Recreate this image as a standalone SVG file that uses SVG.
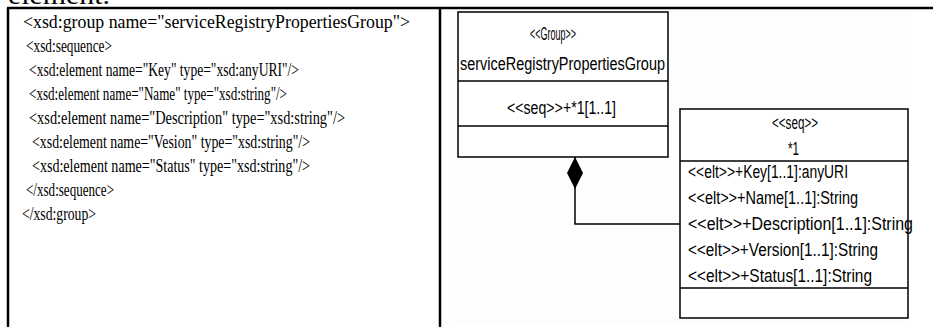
<svg xmlns="http://www.w3.org/2000/svg" width="933" height="327" viewBox="0 0 933 327">
<style>
.xml{font-family:"Liberation Serif","Times New Roman",serif;font-size:18.5px;fill:#000}
.uml{font-family:"Liberation Sans",Arial,sans-serif;font-size:17.5px;fill:#000}
.box{fill:#fff;stroke:#000;stroke-width:1.5}
.sep{stroke:#000;stroke-width:1.5}
.tbl{stroke:#000;stroke-width:2.5}
.conn{fill:none;stroke:#000;stroke-width:1.5}
</style>
<defs>
<marker id="comp" viewBox="0 0 32 16" refX="0" refY="8" markerWidth="32" markerHeight="16" markerUnits="userSpaceOnUse" orient="auto">
<polygon points="0,8 16,0 32,8 16,16" fill="#000"/>
</marker>
</defs>
<rect width="933" height="327" fill="#fff"/>
<text x="8" y="4" style="font-family:'Liberation Serif',serif;font-size:26px" textLength="102" lengthAdjust="spacingAndGlyphs">element.</text>
<g id="table">
<line class="tbl" x1="7" y1="8" x2="933" y2="8"/>
<line class="tbl" x1="8" y1="8" x2="8" y2="327"/>
<line class="tbl" x1="440" y1="8" x2="440" y2="327"/>
<rect x="455" y="10" width="455" height="313" fill="#fdfdfd"/>
</g>
<g id="xsd-code">
<text class="xml" x="23" y="28" textLength="387" lengthAdjust="spacingAndGlyphs">&lt;xsd:group name="serviceRegistryPropertiesGroup"&gt;</text>
<text class="xml" x="26" y="52" textLength="86" lengthAdjust="spacingAndGlyphs">&lt;xsd:sequence&gt;</text>
<text class="xml" x="29" y="76" textLength="270" lengthAdjust="spacingAndGlyphs">&lt;xsd:element name="Key" type="xsd:anyURI"/&gt;</text>
<text class="xml" x="29" y="100" textLength="258" lengthAdjust="spacingAndGlyphs">&lt;xsd:element name="Name" type="xsd:string"/&gt;</text>
<text class="xml" x="29" y="124" textLength="316" lengthAdjust="spacingAndGlyphs">&lt;xsd:element name="Description" type="xsd:string"/&gt;</text>
<text class="xml" x="32" y="148" textLength="278" lengthAdjust="spacingAndGlyphs">&lt;xsd:element name="Vesion" type="xsd:string"/&gt;</text>
<text class="xml" x="32" y="172" textLength="278" lengthAdjust="spacingAndGlyphs">&lt;xsd:element name="Status" type="xsd:string"/&gt;</text>
<text class="xml" x="26" y="196" textLength="88" lengthAdjust="spacingAndGlyphs">&lt;/xsd:sequence&gt;</text>
<text class="xml" x="22" y="220" textLength="74" lengthAdjust="spacingAndGlyphs">&lt;/xsd:group&gt;</text>
</g>
<g id="connectors">
<path class="conn" d="M575,157 V224 H680" marker-start="url(#comp)"/>
</g>
<g id="group-node">
<rect class="box" x="458" y="12" width="210" height="145"/>
<line class="sep" x1="458" y1="81" x2="668" y2="81"/>
<line class="sep" x1="458" y1="126" x2="668" y2="126"/>
<text class="uml" x="530" y="40" textLength="46" lengthAdjust="spacingAndGlyphs">&lt;&lt;Group&gt;&gt;</text>
<text class="uml" x="460" y="70" textLength="205" lengthAdjust="spacingAndGlyphs">serviceRegistryPropertiesGroup</text>
<text class="uml" x="507" y="114" textLength="109" lengthAdjust="spacingAndGlyphs">&lt;&lt;seq&gt;&gt;+*1[1..1]</text>
</g>
<g id="seq-node">
<rect class="box" x="680" y="109" width="228" height="209"/>
<line class="sep" x1="680" y1="161" x2="908" y2="161"/>
<line class="sep" x1="680" y1="288" x2="908" y2="288"/>
<text class="uml" x="772" y="129" textLength="46" lengthAdjust="spacingAndGlyphs">&lt;&lt;seq&gt;&gt;</text>
<text class="uml" x="788" y="155" textLength="11" lengthAdjust="spacingAndGlyphs">*1</text>
<text class="uml" x="688" y="178" textLength="160" lengthAdjust="spacingAndGlyphs">&lt;&lt;elt&gt;&gt;+Key[1..1]:anyURI</text>
<text class="uml" x="688" y="204" textLength="170" lengthAdjust="spacingAndGlyphs">&lt;&lt;elt&gt;&gt;+Name[1..1]:String</text>
<text class="uml" x="688" y="230" textLength="225" lengthAdjust="spacingAndGlyphs">&lt;&lt;elt&gt;&gt;+Description[1..1]:String</text>
<text class="uml" x="688" y="256" textLength="190" lengthAdjust="spacingAndGlyphs">&lt;&lt;elt&gt;&gt;+Version[1..1]:String</text>
<text class="uml" x="688" y="282" textLength="184" lengthAdjust="spacingAndGlyphs">&lt;&lt;elt&gt;&gt;+Status[1..1]:String</text>
</g>
</svg>
